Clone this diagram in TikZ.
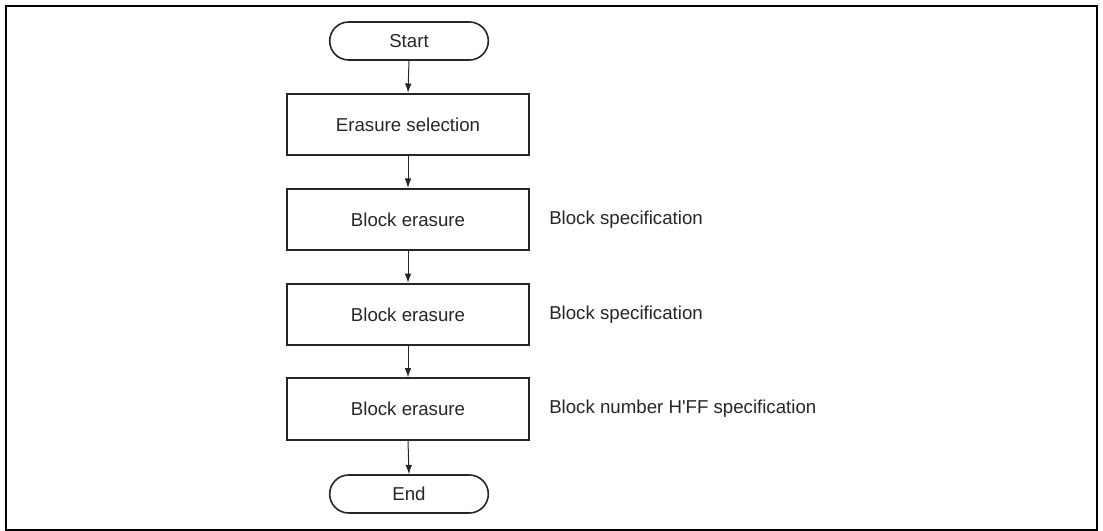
\documentclass[tikz,border=0pt]{standalone}
\usepackage{fontspec}
\setmainfont{Liberation Sans}
\usetikzlibrary{shapes.misc,arrows.meta}
\begin{document}
\begin{tikzpicture}[x=0.75pt,y=-0.75pt,
  every node/.style={font=\fontsize{14pt}{16.5pt}\selectfont, text=black!85},
  procbox/.style={draw=black!85, line width=1.5pt, minimum width=181.5pt, minimum height=46pt, inner sep=0pt},
  termbox/.style={draw=black!85, line width=1.2pt, rounded rectangle, minimum width=119pt, minimum height=28.5pt, inner sep=0pt},
  note/.style={anchor=west, inner sep=0pt},
  flow/.style={draw=black!85, line width=0.75pt, -{Latex[length=7pt,width=5pt]}}]
\useasboundingbox (0,0) rectangle (1103,531);
\draw[line width=1.7pt] (6,6) rectangle (1097,530);
\node[termbox] (start) at (409,41) {Start};
\node[procbox] (sel) at (408,124.5) {Erasure selection};
\node[procbox] (b1) at (408,219.5) {Block erasure};
\node[procbox] (b2) at (408,314.5) {Block erasure};
\node[procbox] (b3) at (408,409) {Block erasure};
\node[termbox] (end) at (409,494) {End};
\node[note] (n1) at (549,219.5) {Block specification};
\node[note] (n2) at (549,314.5) {Block specification};
\node[note] (n3) at (549,409) {Block number H\textquotesingle FF specification};
\draw[flow] (start.south) -- (sel.north);
\draw[flow] (sel.south) -- (b1.north);
\draw[flow] (b1.south) -- (b2.north);
\draw[flow] (b2.south) -- (b3.north);
\draw[flow] (b3.south) -- (end.north);
\end{tikzpicture}
\end{document}
